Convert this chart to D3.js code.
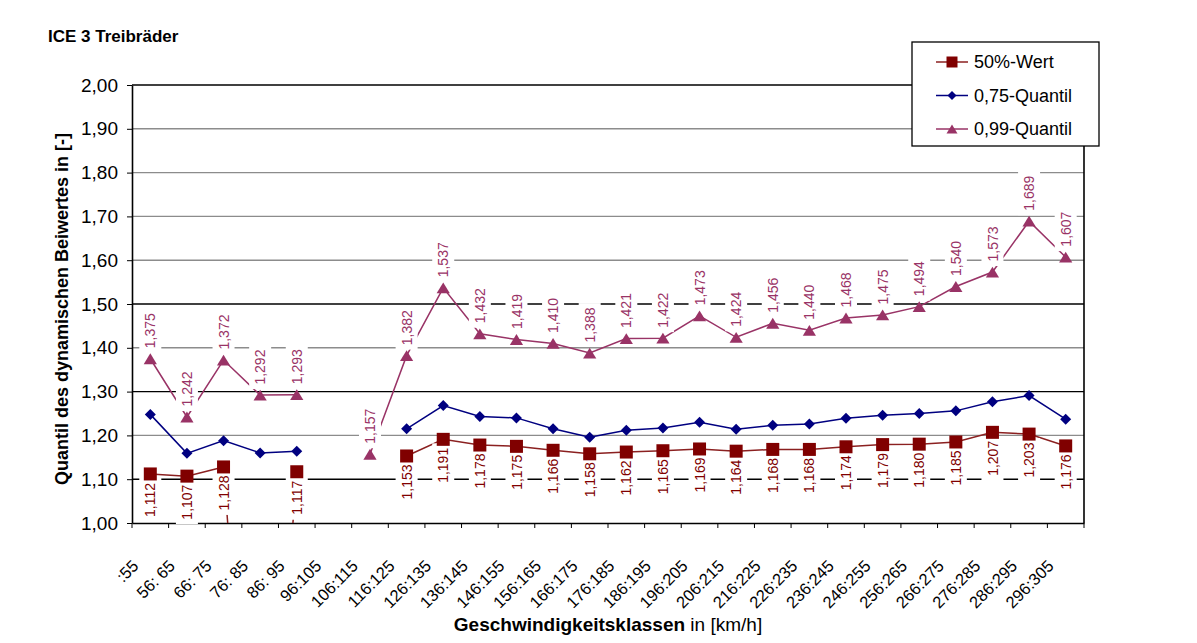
<!DOCTYPE html>
<html><head><meta charset="utf-8">
<script src="https://cdn.jsdelivr.net/npm/d3@7"></script>
<style>body{margin:0;background:#fff;} svg{display:block;font-family:"Liberation Sans",Arial,sans-serif;}</style>
</head><body><svg id="c" width="1197" height="643"></svg>
<script>
const categories = [":55","56: 65","66: 75","76: 85","86: 95","96:105","106:115","116:125","126:135","136:145","146:155","156:165","166:175","176:185","186:195","196:205","206:215","216:225","226:235","236:245","246:255","256:265","266:275","276:285","286:295","296:305"];
const medianValues = [1.112,1.107,1.128,0,1.117,null,null,1.153,1.191,1.178,1.175,1.166,1.158,1.162,1.165,1.169,1.164,1.168,1.168,1.174,1.179,1.180,1.185,1.207,1.203,1.176];
const q75Values = [1.248,1.159,1.188,1.160,1.164,null,null,1.215,1.268,1.243,1.240,1.215,1.196,1.212,1.217,1.230,1.214,1.223,1.226,1.239,1.246,1.250,1.256,1.277,1.291,1.237];
const q99Values = [1.375,1.242,1.372,1.292,1.293,null,1.157,1.382,1.537,1.432,1.419,1.410,1.388,1.421,1.422,1.473,1.424,1.456,1.440,1.468,1.475,1.494,1.540,1.573,1.689,1.607];
const yTicks = [1.0,1.1,1.2,1.3,1.4,1.5,1.6,1.7,1.8,1.9,2.0];
const seriesNames = ["50%-Wert","0,75-Quantil","0,99-Quantil"];

const loc = d3.formatLocale({decimal:",", thousands:".", grouping:[3], currency:["","€"]});
const fmt2 = loc.format(".2f"), fmt3 = loc.format(".3f");

const svg = d3.select("#c");
const m = {l:132, r:1084, t:85, b:523};
const x = d3.scaleBand().domain(categories).range([m.l, m.r]).padding(0);
const y = d3.scaleLinear().domain([1,2]).range([m.b, m.t]);
const cx = c => x(c) + x.bandwidth()/2;

const series = [
  {name:seriesNames[0], values:medianValues, color:"#800000", line:"#8b2020", marker:"square", label:true, pos:26},
  {name:seriesNames[1], values:q75Values, color:"#000080", line:"#000080", marker:"diamond", label:false},
  {name:seriesNames[2], values:q99Values, color:"#993366", line:"#993366", marker:"triangle", label:true, pos:-28}
];

// title
svg.append("text").attr("x",48).attr("y",42).attr("font-size",17).attr("font-weight","bold").text("ICE 3 Treibräder");

// clip
svg.append("clipPath").attr("id","clip").append("rect").attr("x",m.l).attr("y",m.t).attr("width",m.r-m.l).attr("height",m.b-m.t);

// grid
const blackGrid = new Set(["1,10","1,30","1,50"]);
svg.append("g").selectAll("line").data(yTicks.filter(t => t > 1 && t < 2)).join("line")
  .attr("x1",m.l).attr("x2",m.r).attr("y1",d=>y(d)).attr("y2",d=>y(d))
  .attr("stroke",d=>blackGrid.has(fmt2(d)) ? "#000" : "#8c8c8c").attr("stroke-width",1.4);

// axes
const ya = svg.append("g").attr("transform",`translate(${m.l},0)`)
  .call(d3.axisLeft(y).tickValues(yTicks).tickFormat(fmt2).tickSize(5).tickSizeOuter(0));
ya.select(".domain").attr("stroke","#000").attr("stroke-width",1.6);
ya.selectAll(".tick line").attr("stroke","#000");
ya.selectAll(".tick text").attr("font-size",19).attr("fill","#000").attr("font-family","Liberation Sans, Arial, sans-serif").attr("x",-14);

const xa = svg.append("g").attr("transform",`translate(0,${m.b})`)
  .call(d3.axisBottom(x).tickSize(0).tickSizeOuter(0));
xa.select(".domain").attr("stroke","#000").attr("stroke-width",1.6);
xa.selectAll(".tick text").attr("font-size",16.5).attr("fill","#000").attr("font-family","Liberation Sans, Arial, sans-serif")
  .attr("text-anchor","end").attr("transform","translate(-15,40) rotate(-45)").attr("dy","0.35em").attr("y",0);
// band boundary ticks
svg.append("g").selectAll("line").data(categories.concat(["__end"])).join("line")
  .attr("x1",(d,i)=>m.l + i*x.bandwidth()).attr("x2",(d,i)=>m.l + i*x.bandwidth())
  .attr("y1",m.b).attr("y2",m.b+5).attr("stroke","#000");
// top + right frame
svg.append("line").attr("x1",m.l).attr("x2",m.r).attr("y1",m.t).attr("y2",m.t).attr("stroke","#000").attr("stroke-width",1.6);
svg.append("line").attr("x1",m.r).attr("x2",m.r).attr("y1",m.t).attr("y2",m.b).attr("stroke","#000").attr("stroke-width",1.6);

// axis titles
svg.append("text").attr("transform",`translate(68,${(m.t+m.b)/2+5}) rotate(-90)`).attr("text-anchor","middle")
  .attr("font-size",18).attr("font-weight","bold").text("Quantil des dynamischen Beiwertes in [-]");
const xt = svg.append("text").attr("x",(m.l+m.r)/2).attr("y",631).attr("text-anchor","middle").attr("font-size",19);
xt.append("tspan").attr("font-weight","bold").text("Geschwindigkeitsklassen");
xt.append("tspan").text(" in [km/h]");

// lines
const plot = svg.append("g").attr("clip-path","url(#clip)");
series.forEach(s => {
  const line = d3.line().defined(d => d.v != null).x(d => cx(d.c)).y(d => y(d.v));
  plot.append("path").datum(categories.map((c,i)=>({c, v:s.values[i]})))
    .attr("d",line).attr("fill","none").attr("stroke",s.line).attr("stroke-width",1.5);
});

function markerPath(type, size){
  if(type==="square") return d3.symbol(d3.symbolSquare, size*size)();
  if(type==="diamond") return `M0,${-size/2}L${size/2},0L0,${size/2}L${-size/2},0Z`;
  return `M0,${-size*0.45}L${size*0.55},${size*0.45}L${-size*0.55},${size*0.45}Z`;
}
const msize = {square:13, diamond:11, triangle:12};

// labels
series.filter(s=>s.label).forEach(s => {
  const pts = categories.map((c,i)=>({c, v:s.values[i]})).filter(d => d.v != null && d.v >= 1 && d.v <= 2);
  const g = svg.append("g").selectAll("g").data(pts).join("g")
    .attr("transform", d => `translate(${cx(d.c)},${y(d.v)+s.pos}) rotate(-90)`);
  g.append("rect").attr("x",-22).attr("y",-11).attr("width",44).attr("height",22).attr("fill","#fff");
  g.append("text").attr("text-anchor","middle").attr("dy","0.36em").attr("font-size",14).attr("fill",s.color).text(d=>fmt3(d.v));
});

// markers
series.forEach(s => {
  const pts = categories.map((c,i)=>({c, v:s.values[i]})).filter(d => d.v != null && d.v >= 1 && d.v <= 2);
  svg.append("g").selectAll("path").data(pts).join("path")
    .attr("transform", d => `translate(${cx(d.c)},${y(d.v)})`)
    .attr("d", markerPath(s.marker, msize[s.marker])).attr("fill", s.color);
});

// legend
const lg = svg.append("g");
lg.append("rect").attr("x",912).attr("y",42).attr("width",187).attr("height",104).attr("fill","#fff").attr("stroke","#000").attr("stroke-width",1.3);
series.forEach((s,i) => {
  const ly = 62 + i*33.5;
  lg.append("line").attr("x1",936).attr("x2",968).attr("y1",ly).attr("y2",ly).attr("stroke",s.line).attr("stroke-width",1.5);
  lg.append("path").attr("transform",`translate(952,${ly})`).attr("d",markerPath(s.marker, msize[s.marker]-2)).attr("fill",s.color);
  lg.append("text").attr("x",974).attr("y",ly).attr("dy","0.36em").attr("font-size",18).text(s.name);
});
</script></body></html>
